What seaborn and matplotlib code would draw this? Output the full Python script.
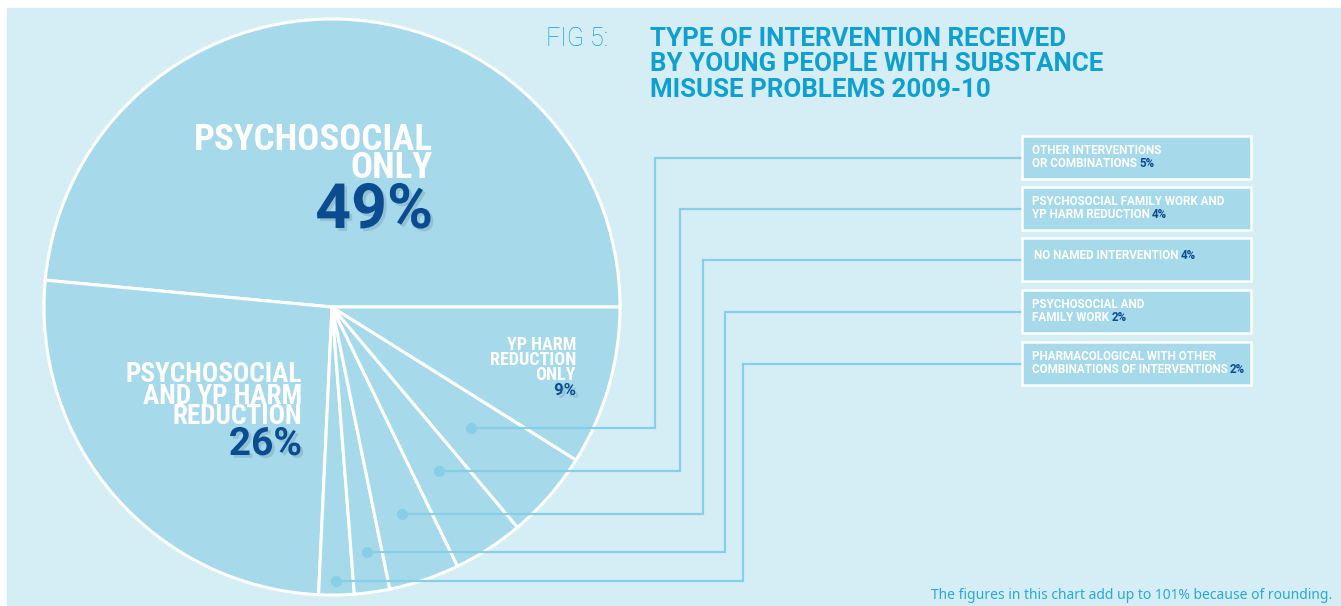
import matplotlib
matplotlib.use('Agg')
import matplotlib.pyplot as plt
import matplotlib.patheffects as pe
from matplotlib.patches import Rectangle
import numpy as np
import seaborn as sns

# Tipo de intervención recibida 2009-10

segmentos = ['Psychosocial only', 'Psychosocial and YP harm reduction',
             'Pharmacological with other combinations of interventions',
             'Psychosocial and family work', 'No named intervention',
             'Psychosocial family work and YP harm reduction',
             'Other interventions or combinations', 'YP harm reduction only']
porcentajes = [49, 26, 2, 2, 4, 4, 5, 9]

# cajas de la derecha (de arriba a abajo) -> indice del segmento
cajas_texto = [['OTHER INTERVENTIONS', 'OR COMBINATIONS'],
               ['PSYCHOSOCIAL FAMILY WORK AND', 'YP HARM REDUCTION'],
               ['NO NAMED INTERVENTION'],
               ['PSYCHOSOCIAL AND', 'FAMILY WORK'],
               ['PHARMACOLOGICAL WITH OTHER', 'COMBINATIONS OF INTERVENTIONS']]
cajas_idx = [6, 5, 4, 3, 2]

FONDO = '#d5eef6'
PIE_C = '#a6d9ea'
AZUL = '#0b4c91'
CIAN = '#0fa0cf'
LINEA = '#86cfe6'
COND = ['Roboto Condensed', 'Roboto', 'DejaVu Sans']
ROB = ['Roboto', 'DejaVu Sans']

sns.set_style('white')

fig = plt.figure(figsize=(13.41, 6.06), dpi=100)
ax = fig.add_axes([0, 0, 1, 1])
ax.add_patch(Rectangle((7, 8), 1341, 606, color=FONDO, zorder=0))

cx, cy, R = 332, 307, 288
wedges, _ = ax.pie(porcentajes, center=(cx, cy), radius=R, startangle=0,
                   counterclock=False, colors=[PIE_C] * len(porcentajes),
                   wedgeprops=dict(edgecolor='white', linewidth=2.2))
ax.set_xlim(0, 1341)
ax.set_ylim(606, 0)
ax.set_aspect('equal')
ax.axis('off')

# lineas guia
radios = [0.64, 0.68, 0.76, 0.86, 0.95]
x_vert = [655, 680, 703, 725, 743]
caja_top = [136, 187, 238, 290, 342]
caja_h = 43
for k, idx in enumerate(cajas_idx):
    w = wedges[idx]
    th = np.deg2rad((w.theta1 + w.theta2) / 2)
    px = cx + radios[k] * R * np.cos(th)
    py = cy + radios[k] * R * np.sin(th)
    ym = caja_top[k] + caja_h / 2
    ax.plot([px, x_vert[k], x_vert[k], 1022], [py, py, ym, ym],
            color=LINEA, lw=1.6, zorder=3, solid_joinstyle='miter')
    ax.plot(px, py, 'o', color=LINEA, ms=7, zorder=4)
    ax.add_patch(Rectangle((1022, caja_top[k]), 229, caja_h, facecolor=PIE_C,
                           edgecolor='white', lw=1.8, zorder=3))
    lineas = cajas_texto[k]
    if len(lineas) == 1:
        ys = [caja_top[k] + 21]
        x0 = 1034
    else:
        ys = [caja_top[k] + 18, caja_top[k] + 31]
        x0 = 1032
    t = None
    for ln, yy in zip(lineas, ys):
        t = ax.text(x0, yy, ln, color='white', fontsize=8.4, fontweight='bold',
                    family=ROB, va='baseline', ha='left', zorder=5)
    ax.annotate(f'{porcentajes[idx]}%', xy=(1, 0), xycoords=t, xytext=(1.5, 0),
                textcoords='offset points', color=AZUL, fontsize=8.4,
                fontweight='bold', family=ROB, va='bottom', ha='left', zorder=5)

sombra = [pe.withSimplePatchShadow(offset=(2, -2), shadow_rgbFace='#1a3a5a', alpha=0.15)]

# etiquetas grandes
def etiqueta(xr, lineas, bases, tam, pct, base_pct, tam_pct):
    for ln, b in zip(lineas, bases):
        ax.text(xr, b, ln, color='white', fontsize=tam, fontweight='bold',
                family=COND, ha='right', va='baseline', zorder=5)
    ax.text(xr, base_pct, pct, color=AZUL, fontsize=tam_pct, fontweight='bold',
            family=ROB, ha='right', va='baseline', zorder=5, path_effects=sombra)

etiqueta(433, ['PSYCHOSOCIAL', 'ONLY'], [150, 178], 26.5, f'{porcentajes[0]}%', 228, 45)
etiqueta(302, ['PSYCHOSOCIAL', 'AND YP HARM', 'REDUCTION'], [382, 404, 424], 19.5,
         f'{porcentajes[1]}%', 455, 28)
etiqueta(576, ['YP HARM', 'REDUCTION', 'ONLY'], [350, 365, 380], 13,
         f'{porcentajes[7]}%', 395, 12)

# titulo
ax.text(546, 46, 'FIG 5:', color=CIAN, fontsize=18, family=ROB,
        fontweight='light', ha='left', va='baseline')
for ln, b in zip(['TYPE OF INTERVENTION RECEIVED', 'BY YOUNG PEOPLE WITH SUBSTANCE',
                  'MISUSE PROBLEMS 2009-10'], [46, 71, 97]):
    ax.text(650, b, ln, color=CIAN, fontsize=18.6, fontweight='bold', family=ROB,
            ha='left', va='baseline')

ax.text(1332, 599, 'The figures in this chart add up to 101% because of rounding.',
        color='#2aa8d8', fontsize=10, family=['Noto Sans', 'DejaVu Sans'],
        ha='right', va='baseline')

plt.savefig('out.png', dpi=100, facecolor='white')
